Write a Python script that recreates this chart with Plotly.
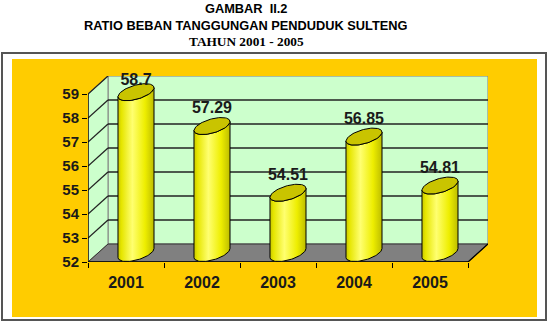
import numpy as np
import plotly.graph_objects as go

# ---- data ----
years = ["2001", "2002", "2003", "2004", "2005"]
ratios = [58.7, 57.29, 54.51, 56.85, 54.81]
labels = ["58.7", "57.29", "54.51", "56.85", "54.81"]
y_ticks = [52, 53, 54, 55, 56, 57, 58, 59]

title_lines = ["GAMBAR&nbsp; II.2", "RATIO BEBAN TANGGUNGAN PENDUDUK SULTENG", "TAHUN 2001 - 2005"]

# ---- geometry / style ----
W, H = 552, 321
ML, MR, MT, MB = 88, 64, 76, 59
YMIN = 52
XPX = (W - ML - MR) / 5.263        # px per x unit
YPX = (H - MT - MB) / 7.75         # px per y unit
DX = 20 / XPX                      # depth offset (x)
DY = 18 / YPX                      # depth offset (y)
YMAX = max(y_ticks)

WALL = "#CCFFCC"
FLOOR = "#808080"
ORANGE = "#FFCC00"
TXT = "#1a1a1a"

# ellipse parameters (px -> data)
A, P, Q = 15.3 / XPX, 9.5 / XPX, 8.5 / YPX
th0 = np.arctan2(9.5, 15.3)


def ell(cx, cy, t):
    return cx + A * np.cos(t) + P * np.sin(t), cy + Q * np.sin(t)


fig = go.Figure()

# cylinder bodies
for i, v in enumerate(ratios):
    cx = i + DX / 2
    ct = v + DY / 2
    cb = YMIN + DY / 2
    tb = np.linspace(th0, th0 - np.pi, 40)
    bx, by = ell(cx, cb, tb)
    tt = np.linspace(th0 - np.pi, th0, 40)
    tx, ty = ell(cx, ct, tt)
    xs = list(bx) + list(tx) + [bx[0]]
    ys = list(by) + list(ty) + [by[0]]
    fig.add_trace(go.Scatter(
        x=xs, y=ys, mode="lines", fill="toself",
        line=dict(color="black", width=1),
        fillgradient=dict(type="horizontal", colorscale=[
            [0, "#C8C800"], [0.1, "#E6E600"], [0.4, "#FFFF70"],
            [0.75, "#EEEE00"], [1, "#BDBD00"]]),
        hoverinfo="skip", showlegend=False))
    te = np.linspace(0, 2 * np.pi, 80)
    ex, ey = ell(cx, ct, te)
    fig.add_trace(go.Scatter(
        x=ex, y=ey, mode="lines", fill="toself", fillcolor="#C9C400",
        line=dict(color="black", width=1), hoverinfo="skip", showlegend=False))

# value labels
label_y = [min(v + DY / 2 + 17 / YPX, YMAX + DY - 5 / YPX) for v in ratios]
fig.add_trace(go.Scatter(
    x=[i + DX / 2 for i in range(len(ratios))],
    y=label_y,
    text=[f"<b>{t}</b>" for t in labels], mode="text", textposition="middle center",
    textfont=dict(family="Arial", size=16, color=TXT),
    cliponaxis=False, hoverinfo="skip", showlegend=False))

shapes = []


def px2paper_x(px):
    return (px - ML) / (W - ML - MR)


def px2paper_y(py):
    return (H - MB - py) / (H - MT - MB)


shapes.append(dict(type="rect", xref="paper", yref="paper",
                   x0=px2paper_x(2), x1=px2paper_x(546), y0=px2paper_y(320), y1=px2paper_y(53),
                   fillcolor="white", line=dict(color="#555555", width=2), layer="below"))
shapes.append(dict(type="rect", xref="paper", yref="paper",
                   x0=px2paper_x(12), x1=px2paper_x(537), y0=px2paper_y(317), y1=px2paper_y(59),
                   fillcolor=ORANGE, line=dict(width=0), layer="below"))

x0, x1 = -0.5, len(years) - 0.5


def path(pts):
    return "M " + " L ".join(f"{a},{b}" for a, b in pts) + " Z"


shapes.append(dict(type="rect", xref="x", yref="y", x0=x0 + DX, x1=x1 + DX,
                   y0=YMIN + DY, y1=YMAX + DY, fillcolor=WALL,
                   line=dict(color="#808080", width=1), layer="below"))
shapes.append(dict(type="path", xref="x", yref="y",
                   path=path([(x0, YMIN), (x0 + DX, YMIN + DY), (x0 + DX, YMAX + DY), (x0, YMAX)]),
                   fillcolor=WALL, line=dict(color="#808080", width=1), layer="below"))
shapes.append(dict(type="path", xref="x", yref="y",
                   path=path([(x0, YMIN), (x1, YMIN), (x1 + DX, YMIN + DY), (x0 + DX, YMIN + DY)]),
                   fillcolor=FLOOR, line=dict(color="#333333", width=1), layer="below"))
for k in y_ticks[1:-1]:
    shapes.append(dict(type="line", xref="x", yref="y", x0=x0 + DX, x1=x1 + DX,
                       y0=k + DY, y1=k + DY, line=dict(color="#222222", width=1.3), layer="below"))
for k in y_ticks[1:]:
    shapes.append(dict(type="line", xref="x", yref="y", x0=x0, x1=x0 + DX,
                       y0=k, y1=k + DY, line=dict(color="#222222", width=1.3), layer="below"))
shapes.append(dict(type="line", xref="x", yref="y", x0=x0, x1=x0, y0=YMIN, y1=YMAX,
                   line=dict(color="black", width=1.3), layer="below"))
shapes.append(dict(type="line", xref="x", yref="y", x0=x0, x1=x1, y0=YMIN, y1=YMIN,
                   line=dict(color="black", width=1.3), layer="below"))
shapes.append(dict(type="line", xref="x", yref="y", x0=x1, x1=x1 + DX, y0=YMIN, y1=YMIN + DY,
                   line=dict(color="black", width=1.3), layer="below"))

annotations = []
title_y = [8, 25, 42]
title_sizes = [12.8, 12.8, 13.3]
title_fonts = ["Arial", "Arial", "Liberation Serif, Times New Roman, serif"]
for t, yy, ff, fs in zip(title_lines, title_y, title_fonts, title_sizes):
    annotations.append(dict(text=f"<b>{t}</b>", xref="paper", yref="paper",
                            x=px2paper_x(246), y=px2paper_y(yy), xanchor="center", yanchor="middle",
                            showarrow=False, font=dict(family=ff, size=fs, color="black")))

fig.update_layout(
    width=W, height=H,
    margin=dict(l=ML, r=MR, t=MT, b=MB),
    paper_bgcolor="white", plot_bgcolor="rgba(0,0,0,0)",
    shapes=shapes, annotations=annotations,
    xaxis=dict(range=[x0, x1 + DX], tickmode="array",
               tickvals=list(range(len(years))), ticktext=[f"<b>{y}</b>" for y in years],
               showgrid=False, zeroline=False, showline=False,
               ticks="outside", ticklen=6, tickcolor="rgba(0,0,0,0)",
               tickfont=dict(family="Arial", size=16, color=TXT),
               minor=dict(tickvals=[x0 + k for k in range(len(years) + 1)],
                          ticks="outside", ticklen=5, tickcolor="black", tickwidth=1.3)),
    yaxis=dict(range=[YMIN, YMAX + DY], tickmode="array", tickvals=y_ticks,
               ticktext=[f"<b>{t}</b>" for t in y_ticks],
               showgrid=False, zeroline=False, showline=False,
               ticks="outside", ticklen=5, tickcolor="black", tickwidth=1.3,
               tickfont=dict(family="Arial", size=15, color=TXT)),
)

fig.write_html("out.html")
